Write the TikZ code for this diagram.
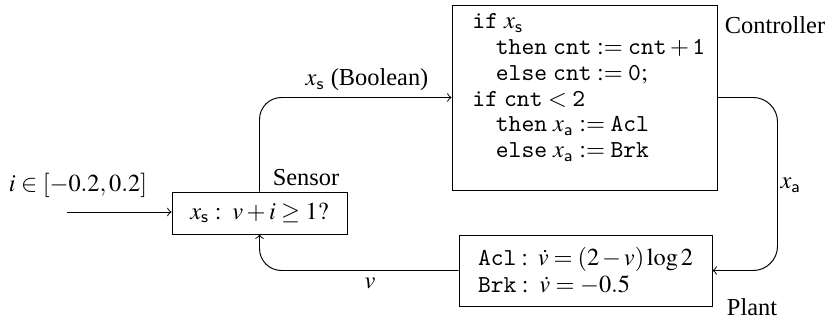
\documentclass[tikz,border=0pt]{standalone}
\usepackage{mathptmx}
\usepackage{fontspec}
\setmainfont{Liberation Serif}
\begin{document}
\begin{tikzpicture}[x=0.41pt,y=-0.41pt,
  box/.style={draw,line width=0.4pt,inner sep=0pt},
  lbl/.style={inner sep=0pt,font=\fontsize{10}{10.6}\selectfont},
  code/.style={inner sep=0pt,align=left,font=\fontsize{10}{10.6}\selectfont},
  conn/.style={->,line width=0.4pt}]
\useasboundingbox (0,0) rectangle (828,320);
% boxes
\node[box,minimum width=265*0.41pt,minimum height=185*0.41pt] (ctrl) at (584.5,97.5) {};
\node[box,minimum width=175*0.41pt,minimum height=42*0.41pt,font=\fontsize{10}{12}\selectfont] (sensor) at (259.5,213) {$x_{\mathsf{s}} :\; v+i \geq 1?$};
\node[box,minimum width=253*0.41pt,minimum height=71*0.41pt,inner xsep=19*0.41pt,text width=215*0.41pt,align=left,font=\fontsize{10}{11}\selectfont] (plant) at (585.5,270.5) {%
\texttt{Acl}$\;:\;\dot{v} = (2-v)\log 2$\\
\texttt{Brk}$\;:\;\dot{v} = -0.5$};
% controller contents
\node[code,anchor=north west] (ctrlcode) at (472,13) {%
\texttt{if} $x_{\mathsf{s}}$\\
\hspace*{9.6pt}\texttt{then} $\texttt{cnt} := \texttt{cnt}+\texttt{1}$\\
\hspace*{9.6pt}\texttt{else} $\texttt{cnt} := \texttt{0};$\\
\texttt{if} $\texttt{cnt} < \texttt{2}$\\
\hspace*{9.6pt}\texttt{then} $x_{\mathsf{a}} := \texttt{Acl}$\\
\hspace*{9.6pt}\texttt{else} $x_{\mathsf{a}} := \texttt{Brk}$};
% labels
\node[lbl] (lctrl) at (775,25) {Controller};
\node[lbl] (lsensor) at (306,178) {Sensor};
\node[lbl] (lplant) at (752,307) {Plant};
\node[lbl] (lin) at (78,185) {$i \in [-0.2, 0.2]$};
\node[lbl] (lxs) at (367,80) {$x_{\mathsf{s}}$ (Boolean)};
\node[lbl] (lxa) at (791,185) {$x_{\mathsf{a}}$};
\node[lbl] (lv) at (370,283) {$v$};
% connectors
\coordinate (in) at (67,212);
\draw[conn] (in) -- (sensor.west |- in);
\draw[conn,rounded corners=9pt] (sensor.north) |- (ctrl.west);
\draw[conn,rounded corners=10pt] (ctrl.east) -- ++(60,0) |- (plant.east);
\draw[conn,rounded corners=9pt] (plant.west) -| (sensor.south);
\end{tikzpicture}
\end{document}
